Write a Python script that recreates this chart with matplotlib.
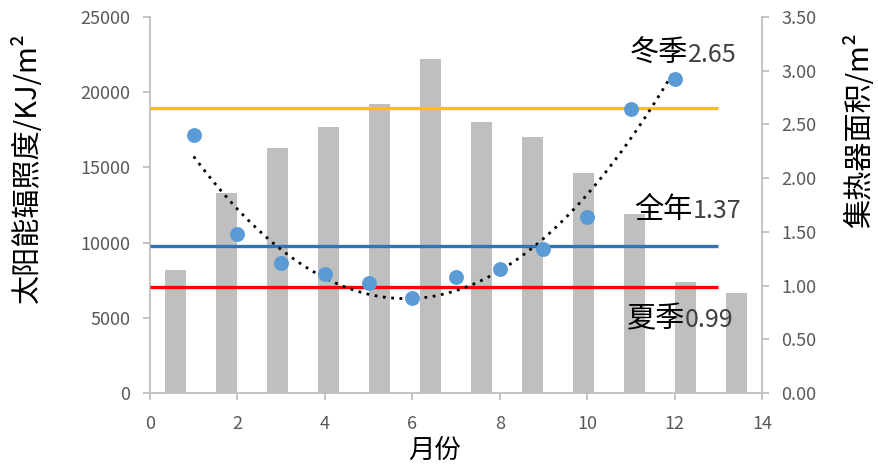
import numpy as np
import matplotlib.pyplot as plt

plt.rcParams['font.family'] = ['Noto Sans CJK SC', 'DejaVu Sans']

# monthly solar irradiation (left axis) and collector area (right axis)
months = [1, 2, 3, 4, 5, 6, 7, 8, 9, 10, 11, 12]
irradiation = [8150, 13300, 16270, 17700, 19240, 22200, 18020, 17000, 14650, 11900, 7400, 6670]
area = [2.40, 1.48, 1.21, 1.11, 1.02, 0.88, 1.08, 1.15, 1.34, 1.64, 2.64, 2.92]

# reference levels
level_names = ['冬季', '全年', '夏季']
level_values = [2.65, 1.37, 0.99]
level_colors = ['#ffc000', '#2e75b6', '#ff0000']
# where each name ends and its number starts (x, baseline y) on the right axis
label_pos = [(12.31, 3.08), (12.42, 1.63), (12.24, 0.61)]

grey = '#bfbfbf'
tick_col = '#595959'

fig = plt.figure(figsize=(8.79, 4.66), dpi=100)
ax = fig.add_axes([0.1706, 0.1567, 0.6963, 0.8068])
ax2 = ax.twinx()

# bars sit on a 12-slot category grid spread over the 0..14 axis
slot = 14 / 12
bar_x = [(i + 0.5) * slot for i in range(len(months))]
ax.bar(bar_x, irradiation, width=slot * 0.4, color=grey, zorder=2)

ax.set_xlim(0, 14)
ax.set_ylim(0, 25000)
ax.set_xticks(range(0, 15, 2))
ax.set_yticks(range(0, 25001, 5000))

ax2.set_ylim(0, 3.5)
ax2.set_yticks(np.arange(0, 3.51, 0.5))
ax2.set_yticklabels(['%.2f' % v for v in np.arange(0, 3.51, 0.5)])

for v, c in zip(level_values, level_colors):
    ax2.plot([0, 13], [v, v], color=c, lw=2.4, solid_capstyle='butt', zorder=3)

# quadratic trend through the monthly areas
coef = np.polyfit(months, area, 2)
xs = np.linspace(1, 12, 200)
ax2.plot(xs, np.polyval(coef, xs), color='black', lw=2, ls=(0, (1, 2)), zorder=4)

ax2.scatter(months, area, s=115, color='#5b9bd5', zorder=5, linewidths=0)

for name, v, (tx, ty) in zip(level_names, level_values, label_pos):
    ax2.text(tx, ty, name, fontsize=21, color='black',
             ha='right', va='baseline', zorder=6)
    ax2.text(tx, ty, '%.2f' % v, fontsize=18, color='#404040',
             ha='left', va='baseline', zorder=6)

for a in (ax, ax2):
    a.spines['top'].set_visible(False)
    for s in ('left', 'right', 'bottom'):
        a.spines[s].set_color(grey)
        a.spines[s].set_linewidth(1.3)
    a.tick_params(colors=grey, labelcolor=tick_col, labelsize=13, length=5, width=1.3)
ax2.spines['left'].set_visible(False)
ax2.spines['bottom'].set_visible(False)
ax.spines['right'].set_visible(False)
ax.tick_params(axis='x', pad=11)
ax.tick_params(axis='y', pad=9)
ax2.tick_params(axis='y', pad=9)

fig.text(435 / 879, 1 - 450 / 466, '月份', fontsize=19, ha='center', va='center')
fig.text(27 / 879, 1 - 168 / 466, '太阳能辐照度/KJ/m²', fontsize=21,
         rotation=90, ha='center', va='center')
fig.text(860 / 879, 1 - 130 / 466, '集热器面积/m²', fontsize=21,
         rotation=90, ha='center', va='center')

fig.savefig('out.png', dpi=100)
